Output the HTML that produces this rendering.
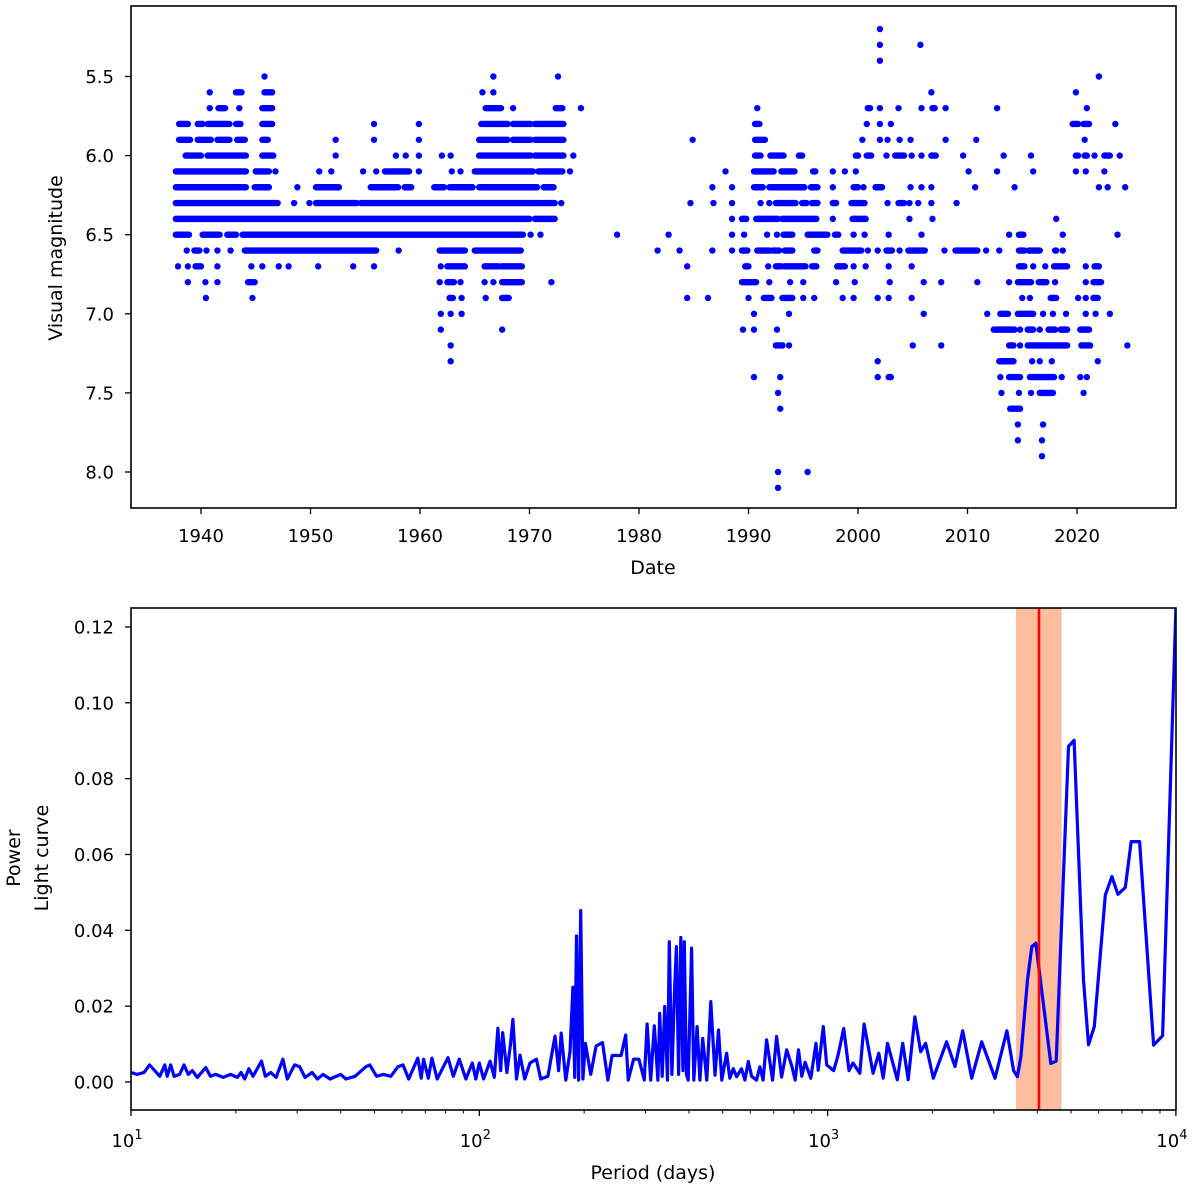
<!DOCTYPE html>
<html><head><meta charset="utf-8"><style>
html,body{margin:0;padding:0;background:#fff;}
svg text{font-family:"DejaVu Sans","Liberation Sans",sans-serif;fill:#000;}
</style></head><body>
<svg id="fig" width="1200" height="1188" viewBox="0 0 1200 1188" xmlns="http://www.w3.org/2000/svg">
<g id="topPanel"></g>
<g id="botPanel"></g>
</svg>
<script>
// ---------- Light curve data ----------
const magLevels = [5.2,5.3,5.4,5.5,5.6,5.7,5.8,5.9,6.0,6.1,6.2,6.3,6.4,6.5,6.6,6.7,6.8,6.9,7.0,7.1,7.2,7.3,7.4,7.5,7.6,7.7,7.8,7.9,8.0,8.1];
// each entry: single year = one observation, [start,end] = run of overlapping observations
const yearRuns = [
[2002],
[2002,2005.7],
[2002],
[1945.8,1966.7,1972.6,2022],
[1940.8,[1943.2,1943.7],[1945.8,1946.5],1965.7,1966.7,2006.7,2019.9],
[1940.8,[1941.6,1942.2],1943.5,[1945.6,1946.5],[1966,1967.4],1968.5,[1972.4,1973],1974.7,1990.8,[2000.9,2001.1],2002,2003.7,2005.8,[2006.8,2007],2008,2012.7,2020.9],
[[1938,1938.8],[1939.7,1940.15],[1940.6,1942.6],[1943.2,1943.6],[1945.6,1946.5],1955.8,1959.9,[1965.6,1968],[1968.5,1970.1],[1970.5,1973.1],[1990.6,1991],2000.8,2002,2003,[2019.6,2020.1],[2020.6,2021.1],2023.5],
[[1938,1939],[1939.7,1940.9],[1941.5,1942.6],[1943.3,1944],[1945.6,1946.1],1952.3,1955.8,1959.9,[1965.4,1968],[1968.5,1970.1],[1970.5,1973.1],1984.9,[1990.6,1991.5],2000.4,2002,2002.7,2003.8,2004.8,2008,2010.8,2020.7],
[[1938.6,1940],[1940.6,1944.1],[1945.6,1946.6],1952.3,1957.8,1958.7,1959.9,1962,1962.8,[1965.4,1970.1],[1970.5,1973.1],1974,[1990.6,1991.1],[1992,1993.2],[1994.6,1994.9],[1999.8,2000],[2000.8,2001.2],2002.6,[2003.4,2004.2],2004.9,2005.8,[2006.7,2007.1],2009.6,2013.3,2015.8,[2019.9,2020.1],[2020.7,2020.9],2021.6,[2022.5,2023],2023.9],
[[1937.7,1944.1],[1945,1946.2],1946.8,1950.8,1951.9,1954.8,1956,[1956.8,1959],1959.9,1962.9,1963.7,[1965,1970.3],[1970.8,1973],1973.7,1987.9,[1990.5,1992.3],[1993,1994.2],[1995.9,1996.1],1997.7,1998.8,1999.8,2010.1,2012.7,2016,2019.9,2020.8,2022.5],
[[1937.7,1944.1],[1944.9,1946.2],1948.8,[1950.5,1952.6],[1955.5,1958],[1958.6,1959.2],[1961.3,1962.2],[1962.7,1964.8],[1965.4,1970.7],[1971.3,1972.2],1986.7,1988.5,[1990.5,1991.3],[1991.9,1995.1],[1995.7,1996.3],1997.7,[1999.6,2000],2000.5,[2001.6,2002.2],2004.8,2005.8,2006.7,2010.7,2014.3,2022,2022.8,2024.4],
[[1937.7,1947],1948.5,1949.9,[1950.5,1954.2],[1954.6,1960.9],[1961,1971.2],[1971.4,1972.3],1972.9,1984.7,1986.8,1988.5,1991.1,1991.9,[1992.5,1994.3],[1994.9,1995.3],[1995.8,1996.3],[1997.7,1998],[1999.4,2000.6],2002.7,[2003.7,2004.2],2004.7,2005.5,2006.7,2009],
[[1937.7,1970],[1970.5,1972.3],1988.5,[1989.4,1989.8],[1990.7,1992.7],[1993.1,1996.2],1997.7,[1999.5,2000.7],2004.7,2006.8,2018.1],
[[1937.7,1938.9],[1940.15,1941.7],[1942.4,1943.2],[1943.8,1969.4],1970.1,1971,1978,1982.7,1988.5,1989.6,1991.7,1992.6,[1993.2,1994],[1995.4,1997.2],[1997.9,1998.2],1999.6,2000.6,2002.8,2005.8,2013.8,[2014.7,2015.1],2018.7,2023.7],
[1938.7,[1939.4,1939.85],1940.5,1941.5,1942.7,[1944,1956],1958.05,[1961.8,1964.1],[1965,1969.2],1981.7,1983.7,1986.7,1988.5,[1989.4,1989.9],[1990.8,1991.9],[1992.2,1992.8],[1993.3,1994],[1996,1996.3],[1998.6,2000.3],2000.9,2001.8,[2002.6,2003.1],2003.8,[2004.6,2006.1],2007.9,[2008.9,2010.9],2011.7,2012.9,[2014.7,2015.2],[2015.6,2016.6],[2018,2018.1],2018.7],
[1937.9,1938.8,[1939.5,1940],1941.5,1944.6,1945.6,1947.1,1948,1950.7,1953.9,1955.8,1961.9,[1962.5,1964.1],[1965.9,1967.2],[1967.5,1969.3],1984.4,[1989.7,1990],1991.8,[1992.5,1993],[1993.3,1995.2],[1995.8,1996.2],[1998.1,1998.8],1999.6,2000.7,2002.8,2004.9,[2014.7,2015.2],2016,2017.1,[2017.9,2019.1],2020.8,[2021.6,2022]],
[1938.8,1940.4,1941.5,[1944.3,1944.9],1961.8,[1962.5,1963.1],1963.7,1965.9,1966.7,[1967.5,1969.3],1972,[1989.4,1990.7],1991.9,1993.8,1995,1998,1999.7,2002.9,2006,2007.6,2010.9,2013.8,[2014.6,2015.8],[2016.5,2017.2],2018,2020.8,[2021.5,2022.2]],
[1940.45,1944.7,[1962.7,1963],1963.8,1966,[1967.5,1968.1],1984.4,1986.3,1990,[1991.4,1992.1],[1993.1,1994],1995,1996,1998.6,1999.6,2001.8,2002.8,2004.9,2015,2015.7,[2017.6,2018.1],2020.1,2020.8,[2021.5,2021.9]],
[1961.9,1962.8,1963.8,1990.5,1993.7,2006,2011.8,[2013,2013.7],[2014.6,2016],2016.9,2017.8,2019,2020.8,2021.7,2023],
[1961.9,1967.5,1989.5,1990.5,1992.6,[2012.4,2014.3],2014.8,[2015.5,2016],2016.6,[2017.4,2018],[2018.5,2019.1],[2020.3,2021.1]],
[1962.8,[1992.5,1993.1],1993.7,2005,2007.6,[2013.8,2014.2],2014.8,[2015.5,2019.1],[2020.4,2021.2],2024.6],
[1962.8,2001.8,[2012.9,2014.2],2015.9,2016.6,2017.7,2021.9],
[1990.5,1992.9,2001.8,[2002.8,2003],2013,[2013.8,2014.8],[2015.7,2017.9],2018.6,2020.3,2020.9],
[1992.7,2013.1,2014.7,2015.8,[2016.6,2017.8],2020.6],
[1992.9,[2013.9,2014.8]],
[2014.6,2016.9],
[2014.6,2016.8],
[2016.8],
[1992.7,1995.4],
[1992.7]
];
const yearTicks = [1940,1950,1960,1970,1980,1990,2000,2010,2020];
const magTicks = [5.5,6.0,6.5,7.0,7.5,8.0];

// ---------- Periodogram data ----------
const periods = [10.0,10.4,10.9,11.3,11.7,12.1,12.5,12.7,13.0,13.3,13.8,14.2,14.6,15.0,15.5,16.4,16.9,17.5,18.4,19.3,20.2,20.7,21.2,21.8,22.4,23.7,24.3,25.2,26.1,27.3,28.1,29.5,30.5,31.6,33.1,34.3,35.6,37.3,40.0,41.4,44.0,47.2,48.5,50.7,53.1,55.7,58.4,60.4,62.7,66.6,68.1,69.2,71.4,73.1,75.7,81.3,84.2,87.6,91.5,95.5,97.7,100.0,102.9,107.4,110.4,113.1,115.2,116.7,120.0,122.9,124.9,127.9,130.9,135.0,139.8,145.9,150.1,157.4,164.9,168.9,171.8,177.1,182.2,185.7,187.9,190.1,192.8,195.5,198.3,201.6,208.9,216.5,225.8,234.0,240.6,255.3,263.3,267.7,277.4,287.3,297.7,303.3,310.6,318.0,325.7,329.5,335.0,340.6,347.1,351.2,357.2,363.9,368.1,373.4,378.8,384.1,387.7,393.3,
398,407,413,422,430,438,450,462,475,486,497,513,524,536,548,566,579,592,605,625,639,653,668,695,714,738,763,789,807,825,843,862,895,926,940,972,994,1041,1071,1112,1152,1183,1237,1273,1351,1403,1444,1486,1585,1643,1704,1781,1850,1911,2011,2196,2321,2442,2592,2769,3025,3271,3421,3507,3588,3749,3858,3960,4374,4533,4918,5103,5430,5612,5829,6271,6552,6817,7157,7443,7866,8628,9160,10000];
const powers = [.0025,.002,.0025,.0045,.003,.0015,.0045,.0015,.0045,.0015,.002,.0045,.002,.003,.0012,.0038,.0015,.002,.0012,.002,.0012,.0025,.0008,.0035,.0015,.0055,.0015,.0025,.0012,.006,.0008,.0045,.004,.0012,.0025,.0008,.002,.0008,.002,.0008,.0015,.004,.0045,.0015,.002,.0015,.004,.0045,.0008,.0063,.001,.006,.001,.0063,.0008,.0064,.0015,.006,.0008,.005,.0008,.005,.0008,.0055,.0012,.0142,.003,.013,.0025,.01,.0165,.0008,.0071,.0008,.005,.006,.0008,.0015,.0121,.003,.0129,.0005,.008,.025,.0012,.0385,.0005,.0452,.0008,.0102,.002,.0095,.0104,.0005,.007,.007,.0124,.0005,.006,.006,.0005,.0153,.0005,.0148,.0005,.0181,.0015,.0199,.0005,.037,.002,.0252,.0357,.002,.0381,.003,.037,.002,
.0005,.0353,.0005,.0146,.0005,.0115,.0005,.0212,.0018,.0137,.0005,.0076,.001,.0035,.0014,.0035,.0005,.0054,.0015,.0005,.004,.0005,.0111,.0005,.012,.0013,.0085,.0042,.0005,.0085,.0015,.0052,.001,.0102,.0031,.0146,.0045,.003,.007,.0141,.003,.005,.0023,.0153,.0023,.0076,.001,.0102,.0006,.0102,.0006,.0172,.008,.0102,.001,.0106,.0041,.0135,.001,.0106,.001,.0135,.003,.0014,.0067,.0269,.0357,.0366,.0049,.0055,.0885,.0901,.0269,.0098,.0146,.0493,.0542,.0495,.0513,.0634,.0634,.0097,.0122,.125];
const bandLow = 3475, bandHigh = 4700, bestPeriod = 4045;
const powerTicks = [0.00,0.02,0.04,0.06,0.08,0.10,0.12];
const decadeTicks = [1,2,3,4];

// ---------- helpers ----------
const NS = 'http://www.w3.org/2000/svg';
function mk(parent, tag, attrs, text){
  const e = document.createElementNS(NS, tag);
  for (const k in attrs) e.setAttribute(k, attrs[k]);
  if (text !== undefined) e.textContent = text;
  parent.appendChild(e);
  return e;
}
const T = {l:131, r:1176, t:6, b:508};
const xYear = y => 201 + (y - 1940) * 10.95;
const yMag = m => 76.5 + (m - 5.5) * 158.2;
const B = {l:131, r:1176, t:608, b:1110};
const xPer = p => 131 + (Math.log10(p) - 1) * 348.3;
const yPow = v => 1082 - v * 3792;

// ---------- Top panel ----------
const topG = document.getElementById('topPanel');
const pts = mk(topG, 'g', {});


magLevels.forEach((m, i) => {
  const y = yMag(m);
  yearRuns[i].forEach(r => {
    if (Array.isArray(r)) {
      const ln = mk(pts, 'line', {x1:xYear(r[0]), x2:xYear(r[1]), y1:y, y2:y, stroke:'#0000ff', 'stroke-width':6.4, 'stroke-linecap':'round'});
      
      
    } else {
      const c = mk(pts, 'circle', {cx:xYear(r), cy:y, r:3.2, fill:'#0000ff'});
      
      
    }
  });
});
const tf = mk(topG, 'rect', {x:T.l, y:T.t, width:T.r-T.l, height:T.b-T.t, fill:'none', stroke:'#000', 'stroke-width':1.6});


yearTicks.forEach(yr => {
  const x = xYear(yr);
  mk(topG, 'line', {x1:x, x2:x, y1:T.b, y2:T.b+6, stroke:'#000', 'stroke-width':1.3});
  const t = mk(topG, 'text', {x:x, y:542, 'font-size':18, 'text-anchor':'middle'}, String(yr));
  
  
});
magTicks.forEach(m => {
  const y = yMag(m);
  mk(topG, 'line', {x1:T.l-6, x2:T.l, y1:y, y2:y, stroke:'#000', 'stroke-width':1.3});
  const t = mk(topG, 'text', {x:114, y:y+6.5, 'font-size':18, 'text-anchor':'end'}, m.toFixed(1));
  
  
});
const xl = mk(topG, 'text', {x:653, y:574, 'font-size':19, 'text-anchor':'middle'}, 'Date');


const yl = mk(topG, 'text', {x:0, y:0, 'font-size':19, 'text-anchor':'middle', transform:'translate(62,258) rotate(-90)'}, 'Visual magnitude');



// ---------- Bottom panel ----------
const botG = document.getElementById('botPanel');
const band = mk(botG, 'rect', {x:xPer(bandLow), y:B.t, width:xPer(bandHigh)-xPer(bandLow), height:B.b-B.t, fill:'#fdbd9e'});


const cp = mk(botG, 'clipPath', {id:'bclip'});
mk(cp, 'rect', {x:B.l, y:B.t, width:B.r-B.l, height:B.b-B.t});
let d = '';
periods.forEach((p, i) => { d += (i ? 'L' : 'M') + xPer(p).toFixed(1) + ' ' + yPow(powers[i]).toFixed(1); });
const line = mk(botG, 'path', {d:d, fill:'none', stroke:'#0000ff', 'stroke-width':3.2, 'stroke-linejoin':'round', 'clip-path':'url(#bclip)'});


const rl = mk(botG, 'line', {x1:xPer(bestPeriod), x2:xPer(bestPeriod), y1:B.t, y2:B.b, stroke:'#ff0000', 'stroke-width':2.6});


const bf = mk(botG, 'rect', {x:B.l, y:B.t, width:B.r-B.l, height:B.b-B.t, fill:'none', stroke:'#000', 'stroke-width':1.6});


powerTicks.forEach(v => {
  const y = yPow(v);
  mk(botG, 'line', {x1:B.l-6, x2:B.l, y1:y, y2:y, stroke:'#000', 'stroke-width':1.3});
  const t = mk(botG, 'text', {x:114, y:y+6.5, 'font-size':18, 'text-anchor':'end'}, v.toFixed(2));
  
  
});
decadeTicks.forEach(k => {
  const x = xPer(Math.pow(10, k));
  mk(botG, 'line', {x1:x, x2:x, y1:B.b, y2:B.b+6, stroke:'#000', 'stroke-width':1.3});
  const t = mk(botG, 'text', {x:x-4, y:1147, 'font-size':18, 'text-anchor':'middle'}, '10');
  mk(t, 'tspan', {dy:-8, 'font-size':13}, String(k));
  
  
  if (k < 4) for (let m = 2; m <= 9; m++) {
    const xm = xPer(m * Math.pow(10, k));
    mk(botG, 'line', {x1:xm, x2:xm, y1:B.b, y2:B.b+3.5, stroke:'#000', 'stroke-width':1});
  }
});
const bxl = mk(botG, 'text', {x:653, y:1179, 'font-size':19, 'text-anchor':'middle'}, 'Period (days)');


const byl = mk(botG, 'text', {x:0, y:0, 'font-size':19, 'text-anchor':'middle', transform:'translate(20,858) rotate(-90)'}, 'Power');


const byl2 = mk(botG, 'text', {x:0, y:0, 'font-size':19, 'text-anchor':'middle', transform:'translate(48,858) rotate(-90)'}, 'Light curve');


</script>
</body></html>
